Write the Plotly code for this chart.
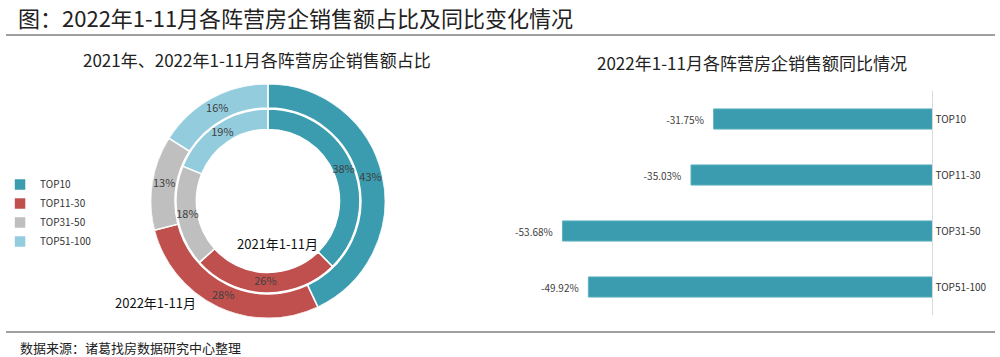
import plotly.graph_objects as go

# ---- data ----
groups = ["TOP10", "TOP11-30", "TOP31-50", "TOP51-100"]
share_2022 = [43, 28, 13, 16]
share_2021 = [38, 26, 18, 19]
yoy_change = [-31.75, -35.03, -53.68, -49.92]
colors = ["#3A9CAE", "#C0504D", "#BFBFBF", "#93CDDD"]

main_title = "图：2022年1-11月各阵营房企销售额占比及同比变化情况"
left_title = "2021年、2022年1-11月各阵营房企销售额占比"
right_title = "2022年1-11月各阵营房企销售额同比情况"
source_text = "数据来源：诸葛找房数据研究中心整理"
label_2021 = "2021年1-11月"
label_2022 = "2022年1-11月"

FONT = "Noto Sans CJK SC"
W, H = 1000, 357

def px_x(x):
    return x / W

def px_y(y):
    return (H - y) / H

# ring geometry (radial-axis units == pixels because range is [0, R_OUT])
R_OUT = 118
OUT_BASE, OUT_THICK = 93.5, 24.5
IN_BASE, IN_THICK = 72, 20.5
cx, cy = 263.5, 201


def ring_angles(values):
    total = sum(values)
    mids, widths, cum = [], [], 0.0
    for v in values:
        w = v / total * 360.0
        mids.append(cum + w / 2)
        widths.append(w)
        cum += w
    return mids, widths

mid22, wid22 = ring_angles(share_2022)
mid21, wid21 = ring_angles(share_2021)

fig = go.Figure()

for i, g in enumerate(groups):
    fig.add_trace(go.Barpolar(
        name=g,
        theta=[mid22[i], mid21[i]],
        width=[wid22[i], wid21[i]],
        r=[OUT_THICK, IN_THICK],
        base=[OUT_BASE, IN_BASE],
        marker=dict(color=colors[i], line=dict(color="white", width=1.5)),
        subplot="polar", showlegend=True,
        hovertext=[f"2022 {g}: {share_2022[i]}%", f"2021 {g}: {share_2021[i]}%"],
        hoverinfo="text",
    ))

fig.add_trace(go.Scatterpolar(
    theta=mid22 + mid21,
    r=[OUT_BASE + OUT_THICK / 2] * len(groups) + [IN_BASE + IN_THICK / 2] * len(groups),
    text=[f"{v}%" for v in share_2022] + [f"{v}%" for v in share_2021],
    mode="text", textfont=dict(family=FONT, size=11, color="#404040"),
    subplot="polar", showlegend=False, hoverinfo="skip", cliponaxis=False,
))

fig.add_trace(go.Bar(
    x=yoy_change, y=groups, orientation="h",
    marker=dict(color="#3A9CAE", line=dict(color="#5FB3C2", width=1)),
    width=0.36,
    texttemplate="%{x:.2f}%   ", textposition="outside",
    textfont=dict(family=FONT, size=10, color="#404040"),
    cliponaxis=False, showlegend=False, xaxis="x", yaxis="y",
))

fig.update_layout(
    width=W, height=H,
    margin=dict(l=0, r=0, t=0, b=0),
    paper_bgcolor="white", plot_bgcolor="white",
    font=dict(family=FONT, color="#333333"),
    polar=dict(
        domain=dict(x=[px_x(cx - R_OUT), px_x(cx + R_OUT)], y=[px_y(cy + R_OUT), px_y(cy - R_OUT)]),
        bgcolor="rgba(0,0,0,0)",
        radialaxis=dict(range=[0, R_OUT], visible=False, showgrid=False),
        angularaxis=dict(rotation=90, direction="clockwise", visible=False, showgrid=False),
    ),
    xaxis=dict(domain=[px_x(516), px_x(932)], range=[-60, 0], visible=False, fixedrange=True),
    yaxis=dict(domain=[px_y(315), px_y(91)], autorange="reversed", side="right",
               showline=True, linecolor="#D9D9D9", linewidth=1, showgrid=False,
               ticks="", tickfont=dict(family=FONT, size=10, color="#333333"),
               anchor="x", zeroline=False),
    legend=dict(x=-0.006, xanchor="left", y=px_y(170), yanchor="top",
                font=dict(family=FONT, size=10, color="#333333"),
                itemwidth=30, bgcolor="rgba(0,0,0,0)", tracegroupgap=0),
    shapes=[
        dict(type="line", xref="paper", yref="paper", x0=0, x1=0.995,
             y0=px_y(35), y1=px_y(35), line=dict(color="#7F7F7F", width=1.5)),
        dict(type="line", xref="paper", yref="paper", x0=0, x1=0.995,
             y0=px_y(332), y1=px_y(332), line=dict(color="#7F7F7F", width=1.5)),
    ],
    annotations=[
        dict(text=main_title, x=px_x(10), y=px_y(17), xref="paper", yref="paper",
             xanchor="left", yanchor="middle", showarrow=False,
             font=dict(family=FONT, size=22, color="#222222")),
        dict(text=left_title, x=px_x(253), y=px_y(60), xref="paper", yref="paper",
             xanchor="center", yanchor="middle", showarrow=False,
             font=dict(family=FONT, size=17, color="#222222")),
        dict(text=right_title, x=px_x(750), y=px_y(62), xref="paper", yref="paper",
             xanchor="center", yanchor="middle", showarrow=False,
             font=dict(family=FONT, size=17, color="#222222")),
        dict(text=label_2021, x=px_x(273), y=px_y(243), xref="paper", yref="paper",
             xanchor="center", yanchor="middle", showarrow=False,
             font=dict(family=FONT, size=13, color="#111111")),
        dict(text=label_2022, x=px_x(150), y=px_y(302), xref="paper", yref="paper",
             xanchor="center", yanchor="middle", showarrow=False,
             font=dict(family=FONT, size=13, color="#111111")),
        dict(text=source_text, x=px_x(12), y=px_y(347), xref="paper", yref="paper",
             xanchor="left", yanchor="middle", showarrow=False,
             font=dict(family=FONT, size=13, color="#222222")),
    ],
)

fig.write_html("out.html", config={"displayModeBar": False},
               post_script="document.body.style.margin='0px';")
